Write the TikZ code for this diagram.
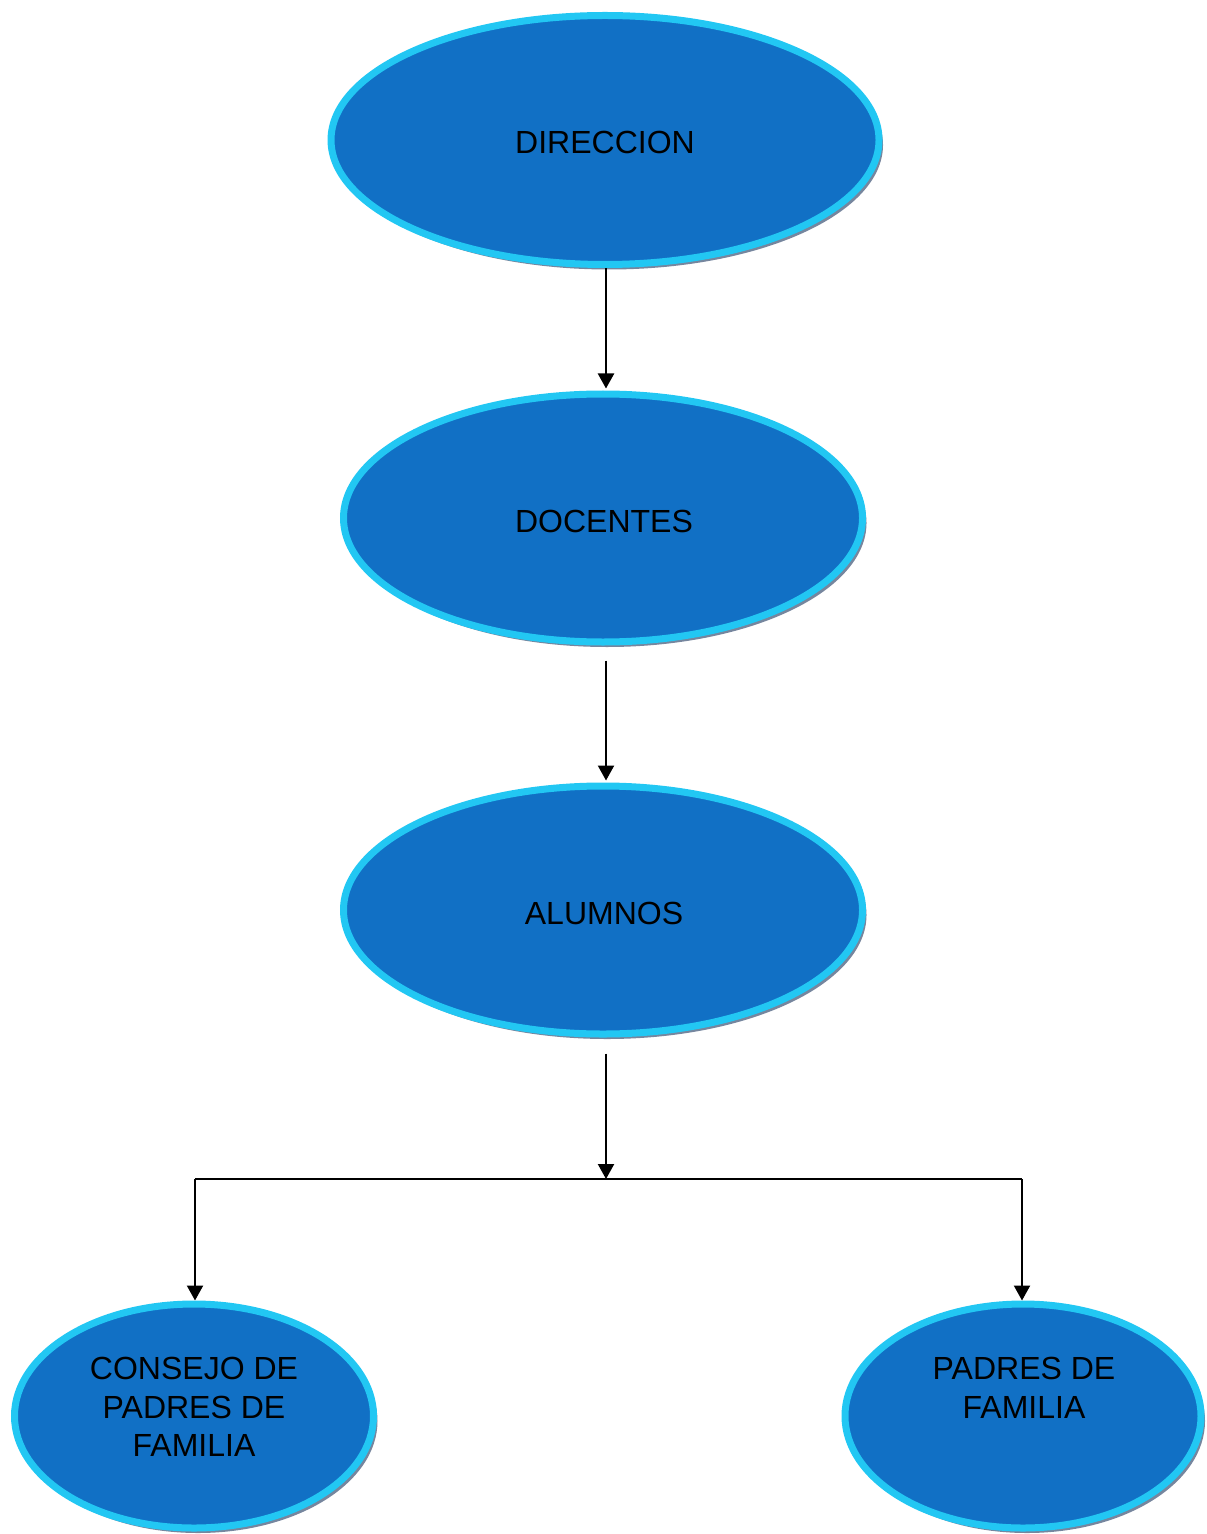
\documentclass[tikz,border=0pt]{standalone}
\usepackage{fontspec}
\setmainfont{Liberation Sans}
\usetikzlibrary{arrows.meta,shadows,shapes.geometric}
\definecolor{bluefill}{RGB}{17,112,197}
\definecolor{cyanring}{RGB}{34,199,243}
\definecolor{shadowgray}{RGB}{118,134,158}
\tikzset{
  oval/.style={ellipse, draw=cyanring, line width=3.5pt, fill=bluefill, inner sep=0pt,
    drop shadow={shadow xshift=2pt, shadow yshift=-2.5pt, fill=shadowgray, opacity=1}},
  lbl/.style={font=\fontsize{16pt}{19.25pt}\selectfont, text=black, align=center, inner sep=0pt},
  conn/.style={line width=1.1pt, draw=black},
  arr/.style={conn, -{Triangle[length=7.5pt,width=8pt]}}
}
\begin{document}
\begin{tikzpicture}[x=0.5pt,y=-0.5pt]
\useasboundingbox (0,0) rectangle (1206,1534);
\node[oval, minimum width=274pt, minimum height=124.5pt] (dir) at (605,140) {};
\node[oval, minimum width=259.5pt, minimum height=124pt] (doc) at (603,518) {};
\node[oval, minimum width=259.5pt, minimum height=124pt] (alu) at (603,910) {};
\node[oval, minimum width=179.5pt, minimum height=112pt] (con) at (194,1416) {};
\node[oval, minimum width=178pt, minimum height=112pt] (pad) at (1023,1416) {};
\node[lbl] (tdir) at (605,142) {DIRECCION};
\node[lbl] (tdoc) at (604,521) {DOCENTES};
\node[lbl] (talu) at (604,913) {ALUMNOS};
\node[lbl] (tcon) at (194,1407) {CONSEJO DE\\PADRES DE\\FAMILIA};
\node[lbl] (tpad) at (1024,1388) {PADRES DE\\FAMILIA};
\coordinate (j) at (606,1179);
\coordinate (jl) at (195,1179);
\coordinate (jr) at (1022,1179);
\draw[arr] ([xshift=0.5pt]dir.south) -- ([xshift=1.5pt,yshift=1pt]doc.north);
\draw[arr] ([xshift=1.5pt,yshift=-7.5pt]doc.south) -- ([xshift=1.5pt,yshift=1pt]alu.north);
\draw[arr] ([xshift=1.5pt,yshift=-8pt]alu.south) -- (j);
\draw[conn] (jl) -- (jr);
\draw[arr] (jl) -- ([xshift=0.5pt]con.north);
\draw[arr] (jr) -- ([xshift=-0.5pt]pad.north);
\end{tikzpicture}
\end{document}
